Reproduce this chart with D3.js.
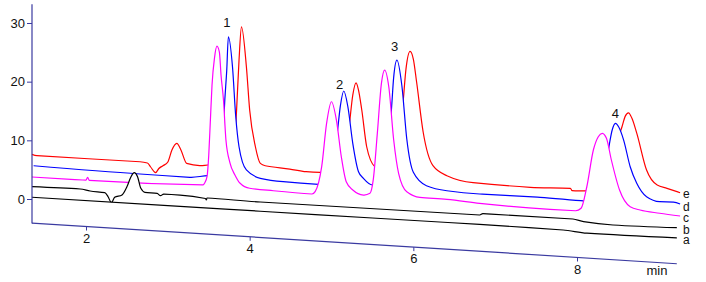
<!DOCTYPE html>
<html>
<head>
<meta charset="utf-8">
<script src="https://cdn.jsdelivr.net/npm/d3@7"></script>
<style>
  body { margin: 0; background: #fff; }
  svg { display: block; font-family: Arial, "Liberation Sans", sans-serif; }
</style>
</head>
<body>
<svg id="chart" width="706" height="282"></svg>
<script>
// [time (min), signal], back trace (e) first
const traceE = [[1.34,7.61],[1.40,7.43],[2.66,7.51],[2.75,7.37],[2.79,6.73],[2.85,5.81],[2.89,6.56],[2.94,7.08],[3.00,7.77],[3.05,9.85],[3.11,11.04],[3.16,9.95],[3.23,7.74],[3.39,7.48],[3.49,7.69],[3.76,7.92],[3.81,10.52],[3.84,17.36],[3.87,25.9],[3.90,31.6],[3.96,24.85],[4.00,17.51],[4.07,11.31],[4.13,8.53],[4.19,8.18],[4.49,7.88],[4.69,7.6],[4.86,7.64],[5.10,7.91],[5.16,10.01],[5.22,16.37],[5.26,21.17],[5.30,23.29],[5.33,22.08],[5.37,18.71],[5.43,12.51],[5.53,9.19],[5.65,8.56],[5.78,10.72],[5.84,16.73],[5.87,19.83],[5.91,26.17],[5.96,29.22],[6.00,27.95],[6.04,24.07],[6.12,15.62],[6.24,9.99],[6.41,8.43],[6.73,7.52],[7.43,7.35],[7.92,7.61],[7.94,7.22],[8.14,7.39],[8.34,7.69],[8.44,11.19],[8.50,16.35],[8.55,18.66],[8.59,20.51],[8.63,21.11],[8.67,20.25],[8.73,17.74],[8.85,11.55],[8.98,9.1],[9.10,8.65],[9.26,8.04]];
const traceD = [[1.36,5.69],[2.66,5.42],[3.27,5.4],[3.49,5.86],[3.64,5.94],[3.66,10.39],[3.68,13.81],[3.69,17.24],[3.72,24.07],[3.74,29.77],[3.79,24.7],[3.83,16.22],[3.87,11.14],[3.96,7.25],[4.13,5.98],[4.41,5.65],[4.84,5.58],[4.96,5.91],[5.02,9.88],[5.07,14.53],[5.11,19.34],[5.15,21.76],[5.20,19.12],[5.26,12.94],[5.33,8.16],[5.39,7.09],[5.50,6.05],[5.59,6.13],[5.65,8.9],[5.69,14.05],[5.73,18.68],[5.76,24.67],[5.80,27.6],[5.86,23.28],[5.92,14.25],[6.00,8.65],[6.16,6.51],[6.41,5.87],[6.81,5.67],[7.55,5.75],[8.10,5.6],[8.22,5.88],[8.32,9.37],[8.39,15.11],[8.43,17.99],[8.47,19.16],[8.51,18.58],[8.57,16.41],[8.65,11.93],[8.73,9.18],[8.85,7.0],[9.01,6.29],[9.18,6.38],[9.26,6.11]];
const traceC = [[1.34,3.75],[2.00,3.79],[2.02,4.3],[2.04,3.8],[3.43,4.23],[3.45,4.59],[3.48,5.8],[3.50,9.39],[3.52,15.37],[3.54,21.36],[3.57,25.98],[3.60,28.05],[3.63,27.05],[3.65,23.16],[3.68,18.92],[3.71,12.14],[3.76,8.26],[3.82,6.27],[3.88,4.96],[4.00,4.17],[4.29,4.0],[4.76,3.86],[4.80,4.29],[4.88,8.62],[4.94,16.06],[5.00,19.8],[5.06,16.73],[5.12,10.53],[5.18,6.33],[5.26,4.99],[5.39,4.24],[5.47,4.6],[5.51,6.91],[5.56,14.9],[5.61,23.47],[5.65,25.77],[5.70,22.97],[5.76,13.94],[5.82,8.32],[5.92,5.27],[6.08,4.46],[6.41,4.41],[6.81,4.08],[7.67,3.81],[7.98,3.84],[8.05,4.32],[8.12,8.06],[8.20,14.38],[8.26,16.7],[8.31,17.33],[8.36,16.52],[8.42,12.88],[8.52,7.85],[8.65,5.12],[8.77,4.66],[9.01,4.32],[9.26,4.07]];
const traceB = [[1.34,2.1],[1.93,2.22],[2.05,1.99],[2.23,1.86],[2.27,1.21],[2.31,0.23],[2.35,1.18],[2.44,1.65],[2.50,3.11],[2.55,4.86],[2.59,5.58],[2.63,4.93],[2.67,2.99],[2.72,2.36],[2.87,2.31],[2.91,1.94],[2.95,2.26],[3.15,2.27],[3.46,1.95],[3.47,1.7],[3.48,2.05],[4.13,1.94],[6.81,2.09],[6.85,2.35],[7.95,2.41],[8.08,2.06],[8.44,1.82],[9.22,2.04]];
const traceA = [[1.34,0.3],[3.0,0.33],[4.13,0.37],[5.5,0.42],[6.81,0.48],[7.83,0.43],[8.12,0.15],[9.22,0.3]];

const traces = [
  {name: 'e', color: '#ff0000', data: traceE},
  {name: 'd', color: '#0000ff', data: traceD},
  {name: 'c', color: '#ff00ff', data: traceC},
  {name: 'b', color: '#000000', data: traceB},
  {name: 'a', color: '#000000', data: traceA}
];
const traceLabels = ['e', 'd', 'c', 'b', 'a'];
// peak numbers, given in the plain (unsheared) frame
const peakLabels = [{text: '1', t: 3.72, v: 29.27}, {text: '2', t: 5.10, v: 18.75}, {text: '3', t: 5.77, v: 25.28}, {text: '4', t: 8.47, v: 13.86}];
const yTicks = [0, 10, 20, 30];
const xTicks = [2, 4, 6, 8];
const tRange = [1.34, 9.22];
const vBottom = -4.1, vTop = 33.2;

const svg = d3.select('#chart');
const axisColor = '#3a3aa0';
const left = 32;
const skew = 3.61; // degrees, the whole plot drifts downward to the right

const x = d3.scaleLinear().domain([2, 8]).range([54, 545]);
const y = d3.scaleLinear().domain([0, 30]).range([199, 23]);

const plot = svg.append('g').attr('transform', 'translate(' + left + ',0) skewY(' + skew + ')');

// hidden-line waterfall: each trace masks the ones behind it
let area = d3.area().x(d => x(d[0])).y0(y(vBottom)).y1(d => y(d[1])).curve(d3.curveMonotoneX);
let line = d3.line().x(d => x(d[0])).y(d => y(d[1])).curve(d3.curveMonotoneX);

traces.forEach(function(tr){
  plot.append('path').attr('d', area(tr.data)).attr('fill', '#fff').attr('stroke', 'none');
  plot.append('path').attr('d', line(tr.data)).attr('fill', 'none')
    .attr('stroke', tr.color).attr('stroke-width', 1.2).attr('stroke-linejoin', 'round');
});

// x axis (sheared)
let xAxis = plot.append('g').attr('transform', 'translate(0,' + y(vBottom) + ')')
  .call(d3.axisBottom(x).tickValues(xTicks).tickSize(4).tickFormat(d3.format('d')));
xAxis.select('.domain').remove();
xAxis.append('line').attr('x1', x(tRange[0])).attr('x2', x(tRange[1])).attr('stroke', axisColor).attr('stroke-width', 1.2);
xAxis.selectAll('.tick line').attr('stroke', axisColor);
xAxis.selectAll('.tick text').attr('transform', 'skewY(' + (-skew) + ')')
  .attr('fill', '#111').style('font-size', '13px').style('font-family', 'Arial, "Liberation Sans", sans-serif');

// y axis
let yAxis = svg.append('g').attr('transform', 'translate(' + left + ',0)')
  .call(d3.axisLeft(y).tickValues(yTicks).tickSize(5).tickPadding(2));
yAxis.select('.domain').remove();
yAxis.append('line').attr('y1', y(vTop)).attr('y2', y(vBottom) + 0.5).attr('stroke', axisColor).attr('stroke-width', 1.2);
yAxis.selectAll('.tick line').attr('stroke', axisColor);
yAxis.selectAll('.tick text').attr('fill', '#111').style('font-size', '13px').style('font-family', 'Arial, "Liberation Sans", sans-serif');

svg.append('text').attr('x', 657).attr('y', 275).attr('text-anchor', 'middle')
  .style('font-size', '13px').attr('fill', '#111').text('min');

// trace names at the right end
let labelY = [198, 210.5, 221.5, 233.5, 244];
traceLabels.forEach(function(l, i){
  svg.append('text').attr('x', 683).attr('y', labelY[i]).style('font-size', '12px').attr('fill', '#111').text(l);
});

peakLabels.forEach(function(p){
  svg.append('text').attr('x', left + x(p.t)).attr('y', y(p.v))
    .attr('text-anchor', 'middle').style('font-size', '13px').attr('fill', '#111').text(p.text);
});
</script>
</body>
</html>
